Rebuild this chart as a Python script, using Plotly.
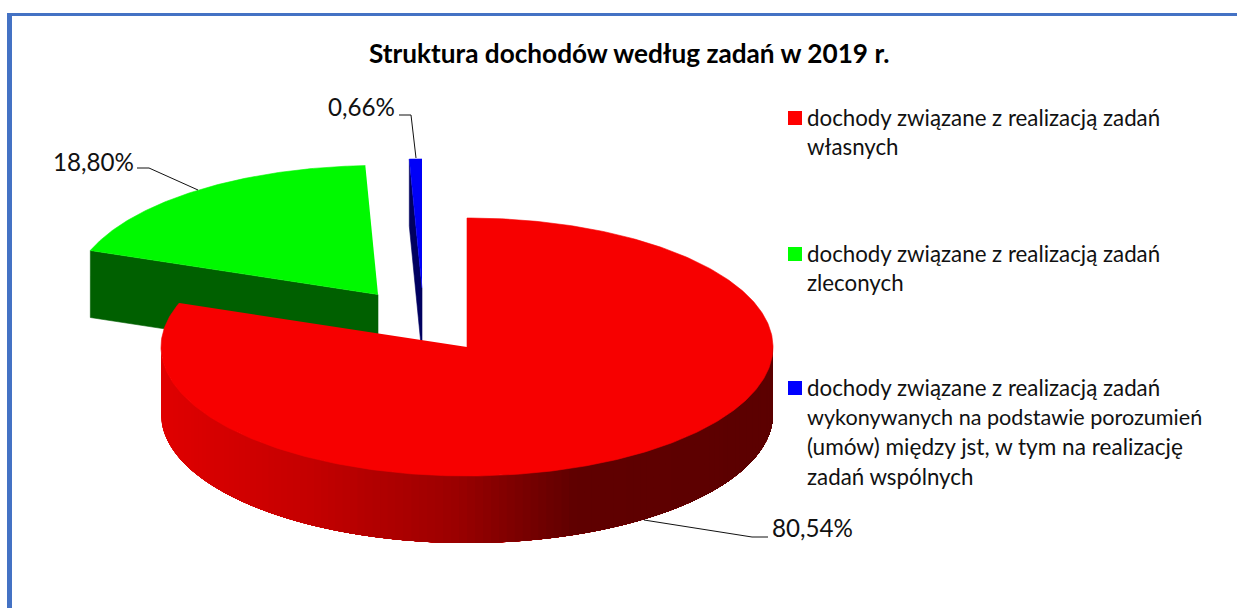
import numpy as np
import plotly.graph_objects as go

title = "Struktura dochodów według zadań w 2019 r."
categories = [
    "dochody związane z realizacją zadań własnych",
    "dochody związane z realizacją zadań zleconych",
    "dochody związane z realizacją zadań wykonywanych na podstawie porozumień (umów) między jst, w tym na realizację zadań wspólnych",
]
legend_lines = [
    ["dochody związane z realizacją zadań", "własnych"],
    ["dochody związane z realizacją zadań", "zleconych"],
    ["dochody związane z realizacją zadań", "wykonywanych na podstawie porozumień",
     "(umów) między jst, w tym na realizację", "zadań wspólnych"],
]
legend_sizes = [[22.3, 22.3], [22.3, 22.3], [22.3, 21.6, 22.6, 22.3]]
values = [80.54, 18.80, 0.66]
top_colors = ["#F70000", "#00F900", "#0000F8"]
side_colors = ["#600000", "#006000", "#000060"]
legend_colors = ["#FF0000", "#00FF00", "#0000FF"]

W, H = 1237, 608
RX, RY, DEPTH = 306, 129, 67
centers = [(467, 347), (378, 294.5), (422, 288)]
FONT = "Lato"
TEXT = "#111111"

def point(c, deg, dy=0):
    a = np.radians(deg)
    return c[0] + RX * np.sin(a), c[1] - RY * np.cos(a) + dy

def arc(c, a0, a1, dy=0, n=160):
    t = np.linspace(a0, a1, n)
    return point(c, t, dy)

def poly(fig, xs, ys, color, name, lw=0.6):
    fig.add_trace(go.Scatter(x=list(xs), y=list(ys), mode="lines", fill="toself",
                             fillcolor=color, line=dict(color=color, width=lw),
                             hoverinfo="name", name=name, showlegend=False))

angles = np.cumsum([0] + values) * 3.6
fig = go.Figure()

# green slice, then blue slice, red last because it sits in front
for i in (1, 2):
    c = centers[i]
    a0, a1 = angles[i], angles[i + 1]
    p0 = point(c, a0)
    p1 = point(c, a0, DEPTH)
    poly(fig, [p0[0], p1[0], c[0], c[0]], [p0[1], p1[1], c[1] + DEPTH, c[1]],
         side_colors[i], categories[i])
    ax, ay = arc(c, a0, a1)
    poly(fig, [c[0], *ax], [c[1], *ay], top_colors[i], categories[i])

# red rim: painted from the left, each band covering everything to its right
c = centers[0]
for b in np.linspace(270, 90, 120, endpoint=False):
    xa, ya = arc(c, 90, b, 0, 120)
    xb, yb = arc(c, b, 90, DEPTH, 120)
    xm = point(c, b)[0]
    r = np.interp(xm, [161, 300, 450, 570, 773], [224, 198, 156, 96, 92])
    poly(fig, [*xa, *xb], [*ya, *yb], f"rgb({int(r)},0,0)", categories[0], lw=0)
ax, ay = arc(c, angles[0], angles[1], 0, 400)
poly(fig, [c[0], *ax], [c[1], *ay], top_colors[0], categories[0])

# leader lines
leaders = [
    ([644, 752, 768], [520, 537, 537]),
    ([137, 149, 198], [168, 168, 190]),
    ([399, 411, 416], [115, 115, 158]),
]
for lx, ly in leaders:
    fig.add_trace(go.Scatter(x=lx, y=ly, mode="lines", line=dict(color="#111111", width=1),
                             hoverinfo="skip", showlegend=False))

# legend swatches
swatch_y = [118, 254, 388]
fig.add_trace(go.Scatter(x=[795] * 3, y=swatch_y, mode="markers",
                         marker=dict(symbol="square", size=14, color=legend_colors, line=dict(width=0)),
                         hoverinfo="skip", showlegend=False))

ann = [dict(x=629, y=53, text=f"<b>{title}</b>", font=dict(size=26.2, family=FONT, color="#000000"),
            xanchor="center", yanchor="middle", showarrow=False)]

label_pos = [(770, 527), (51, 161), (326, 106)]
for v, (x, y) in zip(values, label_pos):
    ann.append(dict(x=x, y=y, text=f"{v:.2f}%".replace(".", ","), xanchor="left", yanchor="middle",
                    showarrow=False, font=dict(size=24.2, family=FONT, color=TEXT)))

line_y = [[117, 146], [253, 282], [387, 417, 446, 476]]
for lines, ys, sizes in zip(legend_lines, line_y, legend_sizes):
    for t, y, s in zip(lines, ys, sizes):
        ann.append(dict(x=805, y=y, text=t, xanchor="left", yanchor="middle", showarrow=False,
                        font=dict(size=s, family=FONT, color=TEXT)))

shapes = [
    dict(type="rect", x0=7, x1=12, y0=13, y1=H, fillcolor="#4472C4", line=dict(width=0), layer="below"),
    dict(type="rect", x0=7, x1=W, y0=13, y1=16, fillcolor="#4472C4", line=dict(width=0), layer="below"),
]

fig.update_layout(
    width=W, height=H, margin=dict(l=0, r=0, t=0, b=0),
    paper_bgcolor="white", plot_bgcolor="white", showlegend=False,
    xaxis=dict(range=[0, W], visible=False, fixedrange=True),
    yaxis=dict(range=[H, 0], visible=False, fixedrange=True),
    annotations=ann, shapes=shapes,
)
fig.write_html("out.html", config=dict(displayModeBar=False),
               post_script="document.body.style.margin='0';document.body.style.overflow='hidden';")
